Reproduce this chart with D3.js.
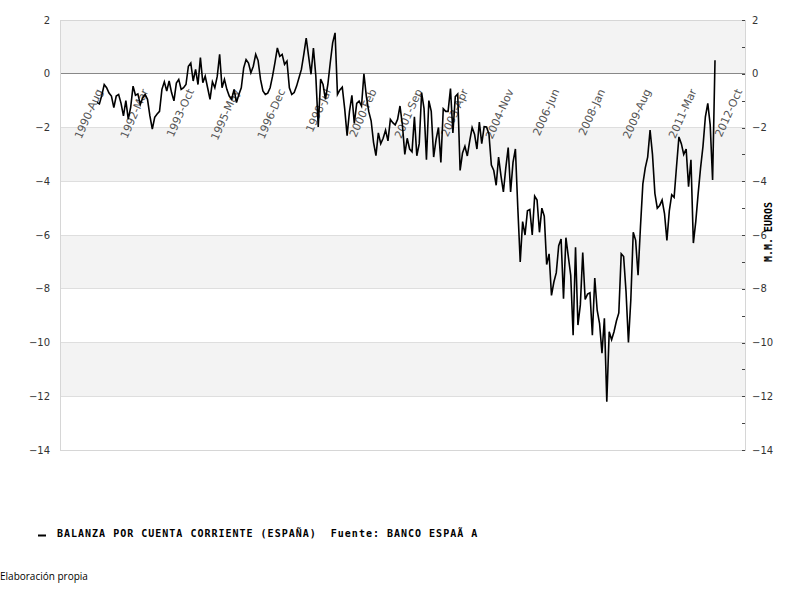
<!DOCTYPE html>
<html>
<head>
<meta charset="utf-8">
<script src="https://cdn.jsdelivr.net/npm/d3@7/dist/d3.min.js"></script>
<style>
  body { margin: 0; background: #fff; }
</style>
</head>
<body>
<div id="chart"></div>
<script>
// monthly current account balance, M.M. euros (first value = 1990-Jun)
var values = [
  -1.07, -1.12, -0.80, -0.40, -0.52, -0.72, -0.83, -1.26, -0.83, -0.77,
  -1.10, -1.57, -1.00, -1.69, -1.25, -0.46, -0.80, -0.75, -1.14, -0.90,
  -0.77, -0.95, -1.57, -2.06, -1.62, -1.50, -1.40, -0.58, -0.30, -0.64,
  -0.27, -0.70, -1.01, -0.35, -0.21, -0.58, -0.52, -0.40, 0.28, 0.40,
  -0.27, 0.16, -0.40, 0.60, -0.33, -0.09, -0.52, -0.95, -0.30, -0.52,
  -0.10, 0.72,
  -0.52, -0.21, -0.58, -0.83, -0.95, -0.58, -1.07, -0.77, -0.52, 0.22,
  0.53, 0.40, 0.04, 0.28, 0.72, 0.49, -0.21, -0.64, -0.77, -0.72,
  -0.52, -0.09, 0.41, 0.96, 0.65, 0.72, 0.35, 0.47, -0.52, -0.77,
  -0.70, -0.46, -0.15, 0.16, 0.72, 1.33, 0.65, -0.02, 0.96, -0.09,
  -1.98, -0.20, -0.40, -0.95, -0.40, 0.41, 1.15, 1.52, -0.77,
  -0.60, -0.50, -1.30, -2.30, -1.40, -0.80, -1.85, -1.10, -1.02, -1.20,
  0.00, -0.83, -1.40, -1.75, -2.55, -3.05, -2.20, -2.60, -2.40, -2.10,
  -2.50, -1.70, -1.82, -1.90, -1.70, -1.20, -1.90, -3.00, -2.40, -2.80,
  -2.90, -1.60, -3.05, -2.60, -0.70, -1.30, -3.20, -1.00, -1.40, -3.10,
  -2.45, -2.00, -3.30, -1.30, -1.40, -1.40, -0.55, -2.20, -0.85, -0.75,
  -3.60, -2.95,
  -2.70, -3.06, -2.50, -2.00, -2.25, -2.80, -1.80, -2.60, -1.97, -1.98,
  -2.25, -3.40, -3.60, -4.15, -3.10, -3.80, -4.40, -3.50, -2.75, -4.40,
  -3.30, -2.80, -5.00, -7.00, -5.50, -6.00, -5.10, -5.05, -6.00, -4.55,
  -4.70, -5.90, -5.00, -5.30, -7.10, -6.70, -8.25, -7.75, -7.40, -6.40,
  -6.15, -8.37, -6.10, -6.80, -7.50, -9.73, -6.46, -9.35, -8.60, -6.65,
  -8.40, -8.20, -8.15, -9.73, -7.60, -8.80,
  -9.30, -10.40, -9.10, -12.20, -9.60, -9.90, -9.60, -9.20, -8.90, -6.70,
  -6.80, -8.10, -10.00, -8.40, -5.90, -6.20, -7.50, -5.70, -4.10, -3.50,
  -3.10, -2.10, -3.00, -4.45, -5.00, -4.90, -4.70, -5.20, -6.20, -5.10,
  -4.50, -4.60, -3.45, -2.35, -2.60, -3.00, -2.80, -4.20, -3.20, -6.30,
  -5.50, -4.45, -3.50, -2.70, -1.60, -1.10, -1.90, -3.95, 0.50
];

// category labels, one every 19 months starting at month index 2
var tickLabels = ["1990-Aug", "1992-Mar", "1993-Oct", "1995-May", "1996-Dec",
  "1998-Jul", "2000-Feb", "2001-Sep", "2003-Apr", "2004-Nov", "2006-Jun",
  "2008-Jan", "2009-Aug", "2011-Mar", "2012-Oct"];
var tickFirst = 2, tickStep = 19;

var yTicks = [2, 0, -2, -4, -6, -8, -10, -12, -14];
var bands = [[2, 0], [-2, -4], [-6, -8], [-10, -12]];

var seriesName = "BALANZA POR CUENTA CORRIENTE (ESPAÑA)";
var sourceText = "Fuente: BANCO ESPAÃ A";
var yTitle = "M.M. EUROS";
var footer = "Elaboración propia";

var W = 800, H = 600;
var plot = {left: 60, top: 20, right: 745, bottom: 450};

var svg = d3.select("#chart").append("svg")
  .attr("width", W)
  .attr("height", H)
  .style("font-family", "'DejaVu Sans', sans-serif");

var x = d3.scaleLinear()
  .domain([0, values.length - 1])
  .range([97, 715]);

var y = d3.scaleLinear()
  .domain([-14, 2])
  .range([plot.bottom, plot.top]);

// shaded bands
svg.selectAll("rect.band")
  .data(bands)
  .enter().append("rect")
  .attr("class", "band")
  .attr("x", plot.left)
  .attr("width", plot.right - plot.left)
  .attr("y", d => y(d[0]))
  .attr("height", d => y(d[1]) - y(d[0]))
  .attr("fill", "#f3f3f3");

// grid lines
svg.selectAll("line.grid")
  .data(yTicks)
  .enter().append("line")
  .attr("x1", plot.left).attr("x2", plot.right)
  .attr("y1", d => y(d)).attr("y2", d => y(d))
  .attr("stroke", d => d === 0 ? "#888" : "#dedede")
  .attr("stroke-width", 1)
  .attr("shape-rendering", "crispEdges");

// frame
svg.append("rect")
  .attr("x", plot.left).attr("y", plot.top)
  .attr("width", plot.right - plot.left)
  .attr("height", plot.bottom - plot.top)
  .attr("fill", "none")
  .attr("stroke", "#d6d6d6")
  .attr("shape-rendering", "crispEdges");

// left labels
var yLeft = svg.append("g")
  .attr("transform", "translate(" + plot.left + ",0)")
  .call(d3.axisLeft(y).tickValues(yTicks).tickSize(0).tickPadding(10));
yLeft.select(".domain").remove();
yLeft.selectAll("text").attr("font-size", 10).attr("fill", "#333")
  .attr("font-family", "'DejaVu Sans', sans-serif");

// right minor ticks (every unit, pointing inwards)
var yTickMarks = svg.append("g")
  .attr("transform", "translate(" + plot.right + ",0)")
  .call(d3.axisLeft(y).ticks(16).tickSize(3).tickFormat(""));
yTickMarks.select(".domain").remove();
yTickMarks.selectAll("line").attr("stroke", "#444").attr("shape-rendering", "crispEdges");

// right labels
var yRight = svg.append("g")
  .attr("transform", "translate(" + plot.right + ",0)")
  .call(d3.axisRight(y).tickValues(yTicks).tickSize(0).tickPadding(7));
yRight.select(".domain").remove();
yRight.selectAll("text").attr("font-size", 10).attr("fill", "#333")
  .attr("font-family", "'DejaVu Sans', sans-serif");

// rotated x labels inside the plot
svg.selectAll("text.xlab")
  .data(tickLabels)
  .enter().append("text")
  .attr("class", "xlab")
  .attr("transform", (d, i) => "translate(" + (x(tickFirst + i * tickStep) + 1) + ",91) rotate(-66)")
  .attr("text-anchor", "end")
  .attr("font-size", 11)
  .attr("fill", "#555")
  .text(d => d);

// the series
var line = d3.line()
  .x((d, i) => x(i))
  .y(d => y(d));

svg.append("path")
  .datum(values)
  .attr("d", line)
  .attr("fill", "none")
  .attr("stroke", "#000")
  .attr("stroke-width", 1.6)
  .attr("stroke-linejoin", "miter");

// y title on the right
svg.append("text")
  .attr("transform", "translate(772,232) rotate(-90)")
  .attr("text-anchor", "middle")
  .attr("font-family", "'DejaVu Sans Mono', monospace")
  .attr("font-weight", "bold")
  .attr("font-size", 10)
  .attr("fill", "#000")
  .text(yTitle);

// legend
svg.append("line")
  .attr("x1", 38).attr("x2", 46)
  .attr("y1", 535.5).attr("y2", 535.5)
  .attr("stroke", "#000").attr("stroke-width", 2);

svg.append("text")
  .attr("x", 57).attr("y", 537)
  .attr("font-family", "'DejaVu Sans Mono', monospace")
  .attr("font-weight", "bold")
  .attr("font-size", 10)
  .attr("letter-spacing", 1.0)
  .attr("fill", "#000")
  .attr("xml:space", "preserve")
  .style("white-space", "pre")
  .text(seriesName + "  " + sourceText);

// footer
svg.append("text")
  .attr("x", 0).attr("y", 580)
  .attr("font-family", "'Open Sans', sans-serif")
  .attr("font-size", 10)
  .attr("fill", "#000")
  .text(footer);
</script>
</body>
</html>
